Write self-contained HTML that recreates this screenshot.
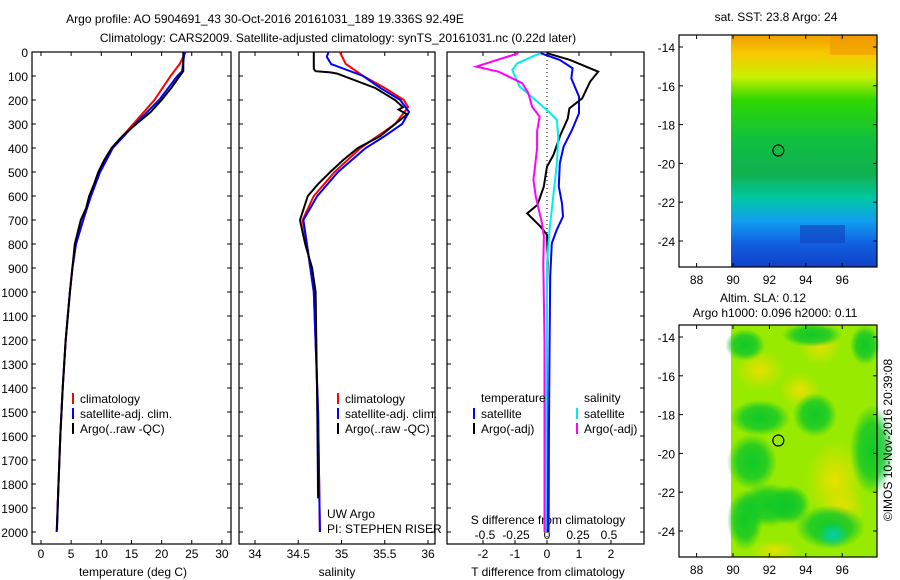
<!DOCTYPE html>
<html><head><meta charset="utf-8"><style>
body{margin:0;background:#fff;width:900px;height:580px;overflow:hidden}
svg{display:block;font-family:"Liberation Sans",sans-serif;font-size:12px}
</style></head><body>
<svg id="c" width="900" height="580" xmlns="http://www.w3.org/2000/svg">
<defs>
<linearGradient id="sst" x1="0" y1="0" x2="0" y2="1">
<stop offset="0" stop-color="#f0a000"/><stop offset="0.08" stop-color="#f8c800"/><stop offset="0.18" stop-color="#c8f000"/><stop offset="0.28" stop-color="#30d800"/><stop offset="0.45" stop-color="#10c040"/><stop offset="0.6" stop-color="#10b050"/><stop offset="0.7" stop-color="#00c8a0"/><stop offset="0.8" stop-color="#10a0f0"/><stop offset="0.9" stop-color="#1060e0"/><stop offset="1" stop-color="#1040c8"/>
</linearGradient>
<radialGradient id="g1"><stop offset="0" stop-color="#e8e000"/><stop offset="1" stop-color="#e8e000" stop-opacity="0"/></radialGradient>
<radialGradient id="g2"><stop offset="0" stop-color="#10c828"/><stop offset="0.6" stop-color="#10c828" stop-opacity="0.8"/><stop offset="1" stop-color="#10c828" stop-opacity="0"/></radialGradient>
<radialGradient id="g3"><stop offset="0" stop-color="#00d0b0"/><stop offset="1" stop-color="#00d0b0" stop-opacity="0"/></radialGradient>
</defs>
</svg>
<script>
// ---- data ----
const depthTicks=[0,100,200,300,400,500,600,700,800,900,1000,1100,1200,1300,1400,1500,1600,1700,1800,1900,2000];
const tempTicks=[0,5,10,15,20,25,30];
const salTicks=[34,34.5,35,35.5,36];
const tdTicks=[-2,-1,0,1,2];
const sdTicks=[-0.5,-0.25,0,0.25,0.5];
const sdTickLabels=["-0.5","-0.25","0","0.25","0.5"];
const tClimDepth=[0,50,100,200,300,400,500,600,700,800,900,1000,1200,1400,1600,1800,2000];
const tClim=[24,23,21.5,18.8,15.3,11.8,9.6,8.2,7.0,5.8,5.2,4.8,4.1,3.6,3.2,2.9,2.6];
const tSatDepth=[0,80,100,200,300,400,500,600,700,800,900,1000,1200,1400,1600,1800,2000];
const tSat=[23.8,23.4,22.6,19.6,15.6,11.9,9.8,8.3,7.0,5.8,5.2,4.8,4.1,3.6,3.2,2.9,2.6];
const tArgoDepth=[0,80,100,150,200,250,300,350,400,450,500,550,600,650,700,800,900,1000,1200,1400,1600,1800,1990];
const tArgo=[23.6,23.6,23.0,21.6,20.0,18.2,15.8,13.5,11.7,10.5,9.5,8.8,8.0,7.5,6.6,5.6,5.2,4.8,4.1,3.6,3.2,2.9,2.65];
const sClimDepth=[0,50,100,150,200,230,300,350,400,500,600,700,800,1000,1500,2000];
const sClim=[34.98,35.05,35.25,35.5,35.72,35.77,35.62,35.42,35.22,34.92,34.68,34.55,34.6,34.68,34.73,34.75];
const sSatDepth=[0,20,50,100,150,200,250,300,350,400,500,600,700,800,1000,1500,2000];
const sSat=[34.85,34.83,34.88,35.25,35.45,35.68,35.78,35.7,35.5,35.28,34.96,34.72,34.56,34.6,34.68,34.73,34.75];
const sArgoDepth=[0,70,80,85,90,150,200,230,240,260,300,350,400,450,500,550,600,700,800,900,1000,1500,1860];
const sArgo=[34.68,34.68,34.7,34.87,34.95,35.39,35.62,35.71,35.66,35.76,35.62,35.45,35.19,35.02,34.87,34.73,34.61,34.52,34.58,34.66,34.70,34.72,34.73];
const dTsatDepth=[5,33,68,110,186,255,325,394,464,561,631,686,742,797,936,1200,1600,2000];
const dTsat=[-0.2,0.4,0.8,0.76,1.0,1.0,0.78,0.52,0.4,0.37,0.47,0.5,0.3,0.15,0.1,0.08,0.06,0.05];
const dTargoDepth=[5,33,82,123,193,235,277,346,429,478,561,637,672,728,762,850,1000,1500,2000];
const dTargo=[0,0.72,1.6,1.35,1.1,0.7,0.65,0.42,0.2,0,-0.1,-0.3,-0.62,-0.2,0,0.02,0,0,0];
const dSsatDepth=[5,47,75,144,186,242,283,352,464,603,742,880,1200,2000];
const dSsat=[-0.056,-0.24,-0.28,-0.22,-0.125,0,0.08,0.09,0.08,0.05,0.02,0,0,-0.01];
const dSargoDepth=[5,61,82,130,172,228,269,330,400,492,533,603,714,769,880,1200,2000];
const dSargo=[-0.23,-0.57,-0.39,-0.2,-0.15,-0.12,-0.06,-0.08,-0.08,-0.1,-0.11,-0.09,-0.04,-0.025,-0.03,-0.02,-0.02];

const NS="http://www.w3.org/2000/svg";
const svg=document.getElementById('c');
function el(tag,attrs,parent){const e=document.createElementNS(NS,tag);for(const k in attrs)e.setAttribute(k,attrs[k]);(parent||svg).appendChild(e);return e;}
function txt(x,y,s,anchor,parent){const t=el('text',{x:x,y:y,'text-anchor':anchor||'start',fill:'#000'},parent);t.textContent=s;return t;}
const yD=d=>52+d*0.24;
const xT=t=>41+t*6.03;
const xS=s=>255+(s-34)*86.5;
const xdT=t=>547+t*32;
const xdS=s=>547+s*124;
const TOP=52,BOT=544;

function panel(x0,x1,name){
  const r=el('rect',{x:x0,y:TOP,width:x1-x0,height:BOT-TOP,fill:'none',stroke:'#000','stroke-width':1.2});
  
  
  depthTicks.forEach(d=>{el('line',{x1:x0,x2:x0+4,y1:yD(d),y2:yD(d),stroke:'#000'});el('line',{x1:x1-4,x2:x1,y1:yD(d),y2:yD(d),stroke:'#000'});});
}
function xticks(vals,fx){vals.forEach(v=>{const x=fx(v);el('line',{x1:x,x2:x,y1:TOP,y2:TOP+4,stroke:'#000'});el('line',{x1:x,x2:x,y1:BOT-4,y2:BOT,stroke:'#000'});});}
function line(xs,ds,fx,color,name,w){
  const pts=xs.map((v,i)=>fx(v).toFixed(1)+','+yD(ds[i]).toFixed(1)).join(' ');
  const p=el('polyline',{points:pts,fill:'none',stroke:color,'stroke-width':w||2});
  
  
}
function legend(x,y,color,label,name){
  el('line',{x1:x,x2:x,y1:y-10,y2:y+1,stroke:color,'stroke-width':2});
  const t=txt(x+7,y,label);
  
  
}

let t=txt(265,23,'Argo profile: AO 5904691_43 30-Oct-2016 20161031_189 19.336S 92.49E','middle');


t=txt(338,42,'Climatology: CARS2009. Satellite-adjusted climatology: synTS_20161031.nc (0.22d later)','middle');



depthTicks.forEach(d=>{const l=txt(28,yD(d)+5,String(d),'end');});

panel(32,231,'temperature-panel');
xticks(tempTicks,xT);
tempTicks.forEach(v=>txt(xT(v),558,String(v),'middle'));
t=txt(133,576,'temperature (deg C)','middle');


line(tClim,tClimDepth,xT,'#f00','temp-climatology-line');
line(tSat,tSatDepth,xT,'#00f','temp-satellite-line');
line(tArgo,tArgoDepth,xT,'#000','temp-argo-line');
legend(73,403,'#f00','climatology','legend-climatology');
legend(73,418,'#00f','satellite-adj. clim.','legend-satellite');
legend(73,433,'#000','Argo(..raw -QC)','legend-argo');

panel(239,435,'salinity-panel');
xticks(salTicks,xS);
salTicks.forEach(v=>txt(xS(v),558,String(v),'middle'));
t=txt(337,576,'salinity','middle');


line(sClim,sClimDepth,xS,'#f00','sal-climatology-line');
line(sSat,sSatDepth,xS,'#00f','sal-satellite-line');
line(sArgo,sArgoDepth,xS,'#000','sal-argo-line');
legend(338,403,'#f00','climatology','legend-climatology-2');
legend(338,418,'#00f','satellite-adj. clim.','legend-satellite-2');
legend(338,433,'#000','Argo(..raw -QC)','legend-argo-2');
txt(327,518,'UW Argo');
txt(327,533,'PI: STEPHEN RISER');

panel(447,644,'difference-panel');
xticks(tdTicks,xdT);
el('line',{x1:547,x2:547,y1:TOP,y2:BOT,stroke:'#000','stroke-dasharray':'1,3'});
tdTicks.forEach(v=>txt(xdT(v),558,String(v),'middle'));
sdTicks.forEach((v,i)=>txt(xdS(v),539,sdTickLabels[i],'middle'));
txt(548,524,'S difference from climatology','middle');
t=txt(548,576,'T difference from climatology','middle');


line(dTsat,dTsatDepth,xdT,'#00f','dT-satellite-line');
line(dTargo,dTargoDepth,xdT,'#000','dT-argo-line');
line(dSsat,dSsatDepth,xdS,'#0ee','dS-satellite-line');
line(dSargo,dSargoDepth,xdS,'#f0f','dS-argo-line');
txt(481,402,'temperature');
txt(584,402,'salinity');
legend(474,418,'#00f','satellite','legend-dT-satellite');
legend(474,433,'#000','Argo(-adj)','legend-dT-argo');
legend(577,418,'#0ee','satellite','legend-dS-satellite');
legend(577,433,'#f0f','Argo(-adj)','legend-dS-argo');

const lonTicks=[88,90,92,94,96];
const latTicks=[-14,-16,-18,-20,-22,-24];
function mapPanel(top,bot,lat14,name,fillFn){
  const xL=d=>733+(d-90)*18.2;
  const yL=v=>lat14+(-14-v)*19.4;
  fillFn(731,top,877-731,bot-top);
  const r=el('rect',{x:679,y:top,width:198,height:bot-top,fill:'none',stroke:'#000','stroke-width':1.2});
  
  
  lonTicks.forEach(v=>{el('line',{x1:xL(v),x2:xL(v),y1:top,y2:top+4,stroke:'#000'});el('line',{x1:xL(v),x2:xL(v),y1:bot-4,y2:bot,stroke:'#000'});txt(xL(v),bot+17,String(v),'middle');});
  latTicks.forEach(v=>{el('line',{x1:679,x2:683,y1:yL(v),y2:yL(v),stroke:'#000'});el('line',{x1:873,x2:877,y1:yL(v),y2:yL(v),stroke:'#000'});txt(675,yL(v)+5,String(v),'end');});
  const c=el('circle',{cx:xL(92.49),cy:yL(-19.336),r:5.5,fill:'none',stroke:'#000','stroke-width':1.2});
  
  
}
mapPanel(35,267,47,'sst-map',(x,y,w,h)=>{el('rect',{x:x,y:y,width:w,height:h,fill:'url(#sst)'});
  el('rect',{x:830,y:y,width:47,height:20,fill:'#f09000',opacity:0.5});
  el('rect',{x:800,y:225,width:45,height:18,fill:'#1040c0',opacity:0.6});});
txt(776,21,'sat. SST: 23.8 Argo: 24','middle');
mapPanel(325,557,337,'sla-map',(x,y,w,h)=>{el('rect',{x:x,y:y,width:w,height:h,fill:'#98ea00'});
  [[760,370,25,20],[820,345,22,20],[800,390,20,18],[835,480,30,40],[843,510,22,25],[775,550,25,10]].forEach(a=>el('ellipse',{cx:a[0],cy:a[1],rx:a[2],ry:a[3],fill:'url(#g1)'}));
  [[760,418,30,18],[815,415,22,22],[752,462,25,28],[768,505,30,22],[790,505,20,20],[830,527,35,22],[872,450,22,45],[745,345,20,16],[812,335,30,12],[865,345,15,20],[745,520,18,30]].forEach(a=>el('ellipse',{cx:a[0],cy:a[1],rx:a[2],ry:a[3],fill:'url(#g2)'}));
  el('ellipse',{cx:833,cy:535,rx:16,ry:13,fill:'url(#g3)'});});
txt(763,302,'Altim. SLA: 0.12','middle');
txt(775,317,'Argo h1000: 0.096 h2000: 0.11','middle');
t=txt(0,0,'©IMOS 10-Nov-2016 20:39:08','middle');
t.setAttribute('transform','translate(892,440) rotate(-90)');


</script>
</body></html>
